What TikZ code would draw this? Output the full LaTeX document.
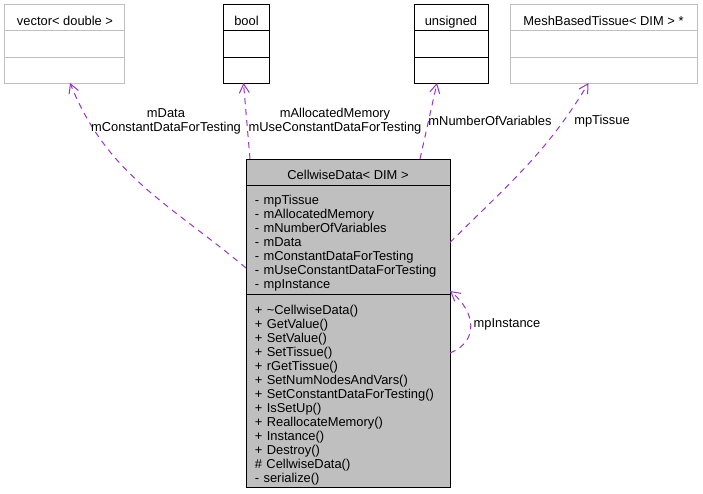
\documentclass[tikz,border=0pt]{standalone}
\usepackage{fontspec}
\setmainfont{Liberation Sans}
\usetikzlibrary{positioning,arrows.meta}

\definecolor{edgepurple}{HTML}{9A32CD}
\definecolor{boxgray}{HTML}{BFBFBF}

\tikzset{
  every node/.style={font=\fontsize{12.9pt}{14pt}\selectfont},
  cls/.style={draw, line width=1pt, minimum height=26pt, inner sep=0pt, outer sep=0pt,
    text height=15pt, text depth=0pt},
  greycls/.style={cls, draw=boxgray},
  maincls/.style={cls, fill=boxgray, minimum width=204pt},
  members/.style={draw, line width=1pt, fill=boxgray, inner sep=0pt, outer sep=0pt,
    align=left, text width=186pt, inner xsep=9pt},
  dep/.style={draw=edgepurple, line width=1pt, dash pattern=on 6pt off 5pt,
    -{Straight Barb[length=9pt,width=10pt]}},
  lbl/.style={inner sep=0pt, align=center},
}

\begin{document}
\begin{tikzpicture}[x=1pt, y=1pt]

  \useasboundingbox (-348,-321) rectangle (355,172);

  % Define nodes
  \node[maincls] (main) {CellwiseData< DIM >};
  \node[members, minimum height=109pt, below=0pt of main] (main-a)
    {\rule{0pt}{17pt}- mpTissue\\- mAllocatedMemory\\- mNumberOfVariables\\- mData\\
     - mConstantDataForTesting\\- mUseConstantDataForTesting\\- mpInstance};
  \node[members, minimum height=193pt, below=0pt of main-a] (main-m)
    {\rule{0pt}{19.5pt}+ \textasciitilde CellwiseData()\\+ GetValue()\\+ SetValue()\\+ SetTissue()\\
     + rGetTissue()\\+ SetNumNodesAndVars()\\+ SetConstantDataForTesting()\\
     + IsSetUp()\\+ ReallocateMemory()\\+ Instance()\\+ Destroy()\\
     \# CellwiseData()\\- serialize()};

  \node[greycls, minimum width=120pt, above=128pt of main, xshift=-283pt] (vec) {vector< double >};
  \node[greycls, minimum width=120pt, below=0pt of vec] (vec-a) {};
  \node[greycls, minimum width=120pt, below=0pt of vec-a] (vec-m) {};

  \node[cls, minimum width=45pt, above=128pt of main, xshift=-101.5pt] (bool) {bool};
  \node[cls, minimum width=45pt, below=0pt of bool] (bool-a) {};
  \node[cls, minimum width=45pt, below=0pt of bool-a] (bool-m) {};

  \node[cls, minimum width=74pt, above=128pt of main, xshift=103pt] (uns) {unsigned};
  \node[cls, minimum width=74pt, below=0pt of uns] (uns-a) {};
  \node[cls, minimum width=74pt, below=0pt of uns-a] (uns-m) {};

  \node[greycls, minimum width=187pt, above=128pt of main, xshift=255.5pt] (mesh) {MeshBasedTissue< DIM > *};
  \node[greycls, minimum width=187pt, below=0pt of mesh] (mesh-a) {};
  \node[greycls, minimum width=187pt, below=0pt of mesh-a] (mesh-m) {};

  % Connect the nodes
  \draw[dep] ([yshift=26pt]main-a.south west) to[out=140, in=-68] ([xshift=5pt]vec-m.south);
  \draw[dep] ([xshift=4pt]main.north west) -- ([xshift=-3pt]bool-m.south);
  \draw[dep] ([xshift=-30pt]main.north east) -- ([xshift=-14pt]uns-m.south);
  \draw[dep] ([yshift=-3pt]main-a.east) to[out=45, in=-121] ([xshift=-15pt]mesh-m.south);
  \draw[dep] ([yshift=-59pt]main-m.north east) .. controls +(30,12) and +(25,-20) .. ([yshift=3pt]main-a.south east);

  % Edge labels
  \node[lbl] (l-vec) at (-182,50.5) {mData\\mConstantDataForTesting};
  \node[lbl] (l-bool) at (-13,50.5) {mAllocatedMemory\\mUseConstantDataForTesting};
  \node[lbl] (l-uns) at (142,51) {mNumberOfVariables};
  \node[lbl] (l-mesh) at (254,51) {mpTissue};
  \node[lbl] (l-self) at (159,-152) {mpInstance};

\end{tikzpicture}
\end{document}
